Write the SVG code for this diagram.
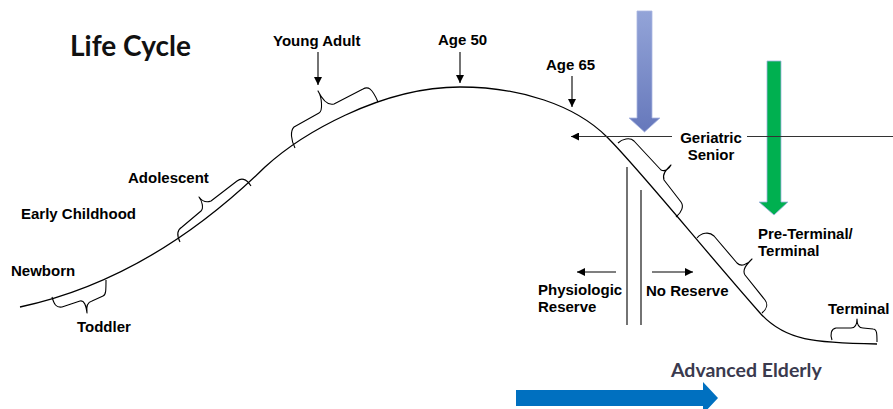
<svg xmlns="http://www.w3.org/2000/svg" width="893" height="409" viewBox="0 0 893 409">
  <style>
    .lbl { font-family: "Liberation Sans", Arial, sans-serif; font-weight: bold; font-size: 15px; fill: #000; }
    .title { font-family: Lato, "Open Sans", sans-serif; font-weight: bold; font-size: 28px; fill: #111; }
    .big { font-family: Lato, "Open Sans", sans-serif; font-weight: bold; font-size: 19.5px; fill: #3a3a4e; }
    .curve { fill: none; stroke: #000; stroke-width: 1.3; }
    .brace { fill: none; stroke: #000; stroke-width: 1.1; stroke-linejoin: round; }
    .pt { fill: none; stroke: #000; stroke-width: 1.1; }
    .ref { fill: none; stroke: #000; stroke-width: 1.1; }
  </style>
  <defs>
    <marker id="ah" viewBox="0 0 8 8" refX="8" refY="4" markerWidth="8" markerHeight="8" markerUnits="userSpaceOnUse" orient="auto">
      <path d="M0,0 L8,4 L0,8 Z" fill="#000"/>
    </marker>
    <linearGradient id="lav" x1="0" y1="0" x2="0" y2="1">
      <stop offset="0" stop-color="#93a4d8"/>
      <stop offset="1" stop-color="#6678bb"/>
    </linearGradient>
  </defs>

  <rect width="893" height="409" fill="#fff"/>

  <!-- life-cycle curve -->
  <path id="curve" class="curve" d="M20,307 C90,292 175,255 265,167 C300,135 380,87 460,87 C520,87 575,105 607,137 C640,170 700,245 760,313 C785,341 815,343 877,344"/>

  <!-- braces along the curve -->
  <g id="braces">
    <path class="brace" d="M52,297 C54,304 56,308 62,307 L80,301 C84,300 86,305 87,313 C86,306 88,302 92,301 L103,296 C106,295 106,290 106,280"/>
    <path class="brace" d="M180,242 C177,236 177,230 182,227 L201,211 C204,208 202,201 199,197 C202,201 206,203 211,201 L237,181 C241,178 246,178 251,186"/>
    <path class="brace" d="M295,148 C291,140 290,131 294,127 L319,113 C323,111 322,97 318,91 C322,99 327,106 334,104 L363,89 C368,86 372,88 378,102"/>
    <path class="brace" d="M618,143 C622,139 630,137 634,141 L661,170 C665,172 669,169 671,165 C666,170 662,174 664,180 L681,202 C684,206 682,212 676,217"/>
    <path class="brace" d="M697,238 C701,233 709,231 714,236 L737,263 C741,267 747,265 752,259 C746,265 742,270 745,275 L765,300 C768,304 767,309 762,313"/>
    <path class="brace" d="M832,340 C830,334 831,329 836,328 L851,328 C855,328 857,324 857,319 C857,324 859,328 863,328 L873,329 C877,329 877,334 877,342"/>
  </g>

  <!-- reserve boundary lines -->
  <g id="reserve-lines">
    <line class="ref" x1="627" y1="167" x2="627" y2="325"/>
    <line class="ref" x1="641" y1="190" x2="641" y2="325"/>
  </g>

  <!-- big block arrows -->
  <g id="arrow-lavender">
    <path d="M637,11 L652,11 L652,118 L660,118 L644.5,132 L629,118 L637,118 Z" fill="url(#lav)" stroke="#aab6e2" stroke-width="0.8"/>
  </g>
  <g id="arrow-green">
    <path d="M767,61 L781,61 L781,202 L788,202 L774,215 L759,202 L767,202 Z" fill="#00b050" stroke="#9fb4e0" stroke-width="0.8"/>
  </g>
  <g id="arrow-blue">
    <path d="M516,390 L703,390 L703,382 L718,398 L703,414 L703,406 L516,406 Z" fill="#0070c0"/>
  </g>

  <!-- pointer connectors -->
  <g id="connectors">
    <line class="pt" x1="318" y1="52" x2="318" y2="85" marker-end="url(#ah)"/>
    <line class="pt" x1="460" y1="52" x2="460" y2="83" marker-end="url(#ah)"/>
    <line class="pt" x1="572" y1="76" x2="572" y2="107" marker-end="url(#ah)"/>
    <line x1="672" y1="136.5" x2="571" y2="136.5" stroke="#333" stroke-width="1.2" marker-end="url(#ah)"/>
    <line x1="747" y1="136.5" x2="893" y2="136.5" stroke="#333" stroke-width="1.2"/>
    <line class="pt" x1="616" y1="272" x2="577" y2="272" marker-end="url(#ah)"/>
    <line class="pt" x1="652" y1="272" x2="693" y2="272" marker-end="url(#ah)"/>
  </g>

  <!-- labels -->
  <g id="title"><text class="title" x="70" y="56">Life Cycle</text></g>
  <g id="newborn"><text class="lbl" x="11" y="276">Newborn</text></g>
  <g id="toddler"><text class="lbl" x="77" y="332">Toddler</text></g>
  <g id="early-childhood"><text class="lbl" x="21" y="219">Early Childhood</text></g>
  <g id="adolescent"><text class="lbl" x="128" y="183">Adolescent</text></g>
  <g id="young-adult"><text class="lbl" x="273" y="46">Young Adult</text></g>
  <g id="age-50"><text class="lbl" x="438" y="45">Age 50</text></g>
  <g id="age-65"><text class="lbl" x="546" y="70">Age 65</text></g>
  <g id="geriatric-senior">
    <text class="lbl" x="711" y="142.5" text-anchor="middle">Geriatric</text>
    <text class="lbl" x="711" y="159.5" text-anchor="middle">Senior</text>
  </g>
  <g id="pre-terminal">
    <text class="lbl" x="758" y="238.5" font-size="14.5">Pre-Terminal/</text>
    <text class="lbl" x="758" y="255.5">Terminal</text>
  </g>
  <g id="physiologic-reserve">
    <text class="lbl" x="538" y="295">Physiologic</text>
    <text class="lbl" x="538" y="312">Reserve</text>
  </g>
  <g id="no-reserve"><text class="lbl" x="646" y="296">No Reserve</text></g>
  <g id="terminal"><text class="lbl" x="828" y="314">Terminal</text></g>
  <g id="advanced-elderly"><text class="big" x="671" y="377">Advanced Elderly</text></g>
</svg>
